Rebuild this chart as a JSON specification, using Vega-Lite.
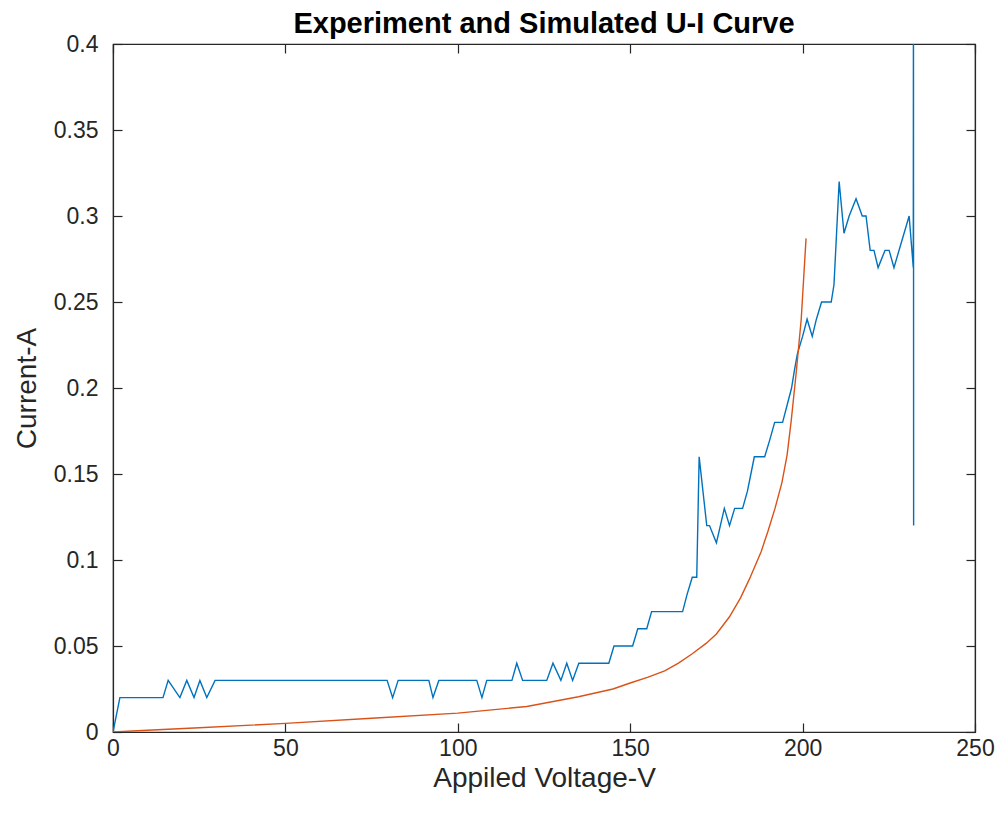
{
  "$schema": "https://vega.github.io/schema/vega-lite/v6.json",
  "autosize": "none",
  "width": 862,
  "height": 688,
  "padding": {"left": 113, "top": 44, "right": 28, "bottom": 89},
  "background": "white",
  "title": {
    "text": "Experiment and Simulated U-I Curve",
    "font": "Liberation Sans",
    "fontSize": 29,
    "fontWeight": "bold",
    "color": "#000000",
    "anchor": "middle",
    "offset": -6
  },
  "config": {
    "view": {"stroke": "#262626", "strokeWidth": 1.2},
    "axis": {
      "grid": false,
      "domainColor": "#262626",
      "domainWidth": 1.2,
      "tickColor": "#262626",
      "tickWidth": 1.2,
      "tickSize": -9,
      "labelColor": "#262626",
      "labelFont": "Liberation Sans",
      "labelFontSize": 23,
      "titleColor": "#262626",
      "titleFont": "Liberation Sans",
      "titleFontSize": 28,
      "titleFontWeight": "normal"
    }
  },
  "data": {
    "values": [
      {"series": "Experiment", "V": 0, "I": 0},
      {"series": "Experiment", "V": 2, "I": 0.02},
      {"series": "Experiment", "V": 14.5, "I": 0.02},
      {"series": "Experiment", "V": 16, "I": 0.03},
      {"series": "Experiment", "V": 19.4, "I": 0.02},
      {"series": "Experiment", "V": 21.4, "I": 0.03},
      {"series": "Experiment", "V": 23.5, "I": 0.02},
      {"series": "Experiment", "V": 25.2, "I": 0.03},
      {"series": "Experiment", "V": 27.2, "I": 0.02},
      {"series": "Experiment", "V": 29.6, "I": 0.03},
      {"series": "Experiment", "V": 79.5, "I": 0.03},
      {"series": "Experiment", "V": 81.1, "I": 0.02},
      {"series": "Experiment", "V": 82.7, "I": 0.03},
      {"series": "Experiment", "V": 91.6, "I": 0.03},
      {"series": "Experiment", "V": 92.8, "I": 0.02},
      {"series": "Experiment", "V": 94.5, "I": 0.03},
      {"series": "Experiment", "V": 105.5, "I": 0.03},
      {"series": "Experiment", "V": 107, "I": 0.02},
      {"series": "Experiment", "V": 108.4, "I": 0.03},
      {"series": "Experiment", "V": 115.7, "I": 0.03},
      {"series": "Experiment", "V": 117.1, "I": 0.04},
      {"series": "Experiment", "V": 118.8, "I": 0.03},
      {"series": "Experiment", "V": 125.8, "I": 0.03},
      {"series": "Experiment", "V": 127.6, "I": 0.04},
      {"series": "Experiment", "V": 129.9, "I": 0.03},
      {"series": "Experiment", "V": 131.6, "I": 0.04},
      {"series": "Experiment", "V": 133.3, "I": 0.03},
      {"series": "Experiment", "V": 135.1, "I": 0.04},
      {"series": "Experiment", "V": 143.8, "I": 0.04},
      {"series": "Experiment", "V": 145.3, "I": 0.05},
      {"series": "Experiment", "V": 150.7, "I": 0.05},
      {"series": "Experiment", "V": 152.2, "I": 0.06},
      {"series": "Experiment", "V": 154.8, "I": 0.06},
      {"series": "Experiment", "V": 156.2, "I": 0.07},
      {"series": "Experiment", "V": 165.2, "I": 0.07},
      {"series": "Experiment", "V": 166.5, "I": 0.08},
      {"series": "Experiment", "V": 168, "I": 0.09},
      {"series": "Experiment", "V": 169.3, "I": 0.09},
      {"series": "Experiment", "V": 170, "I": 0.16},
      {"series": "Experiment", "V": 172.2, "I": 0.12},
      {"series": "Experiment", "V": 173, "I": 0.12},
      {"series": "Experiment", "V": 175, "I": 0.11},
      {"series": "Experiment", "V": 177.3, "I": 0.13},
      {"series": "Experiment", "V": 178.8, "I": 0.12},
      {"series": "Experiment", "V": 180.3, "I": 0.13},
      {"series": "Experiment", "V": 182.6, "I": 0.13},
      {"series": "Experiment", "V": 184, "I": 0.14},
      {"series": "Experiment", "V": 185, "I": 0.15},
      {"series": "Experiment", "V": 186, "I": 0.16},
      {"series": "Experiment", "V": 189, "I": 0.16},
      {"series": "Experiment", "V": 190.5, "I": 0.17},
      {"series": "Experiment", "V": 191.9, "I": 0.18},
      {"series": "Experiment", "V": 194.2, "I": 0.18},
      {"series": "Experiment", "V": 195.5, "I": 0.19},
      {"series": "Experiment", "V": 196.8, "I": 0.2},
      {"series": "Experiment", "V": 197.6, "I": 0.21},
      {"series": "Experiment", "V": 198.5, "I": 0.22},
      {"series": "Experiment", "V": 200, "I": 0.23},
      {"series": "Experiment", "V": 201.3, "I": 0.24},
      {"series": "Experiment", "V": 202.8, "I": 0.23},
      {"series": "Experiment", "V": 204, "I": 0.24},
      {"series": "Experiment", "V": 205.5, "I": 0.25},
      {"series": "Experiment", "V": 208.3, "I": 0.25},
      {"series": "Experiment", "V": 209.1, "I": 0.26},
      {"series": "Experiment", "V": 210.6, "I": 0.32},
      {"series": "Experiment", "V": 212, "I": 0.29},
      {"series": "Experiment", "V": 213.5, "I": 0.3},
      {"series": "Experiment", "V": 215.5, "I": 0.31},
      {"series": "Experiment", "V": 217.3, "I": 0.3},
      {"series": "Experiment", "V": 218.4, "I": 0.3},
      {"series": "Experiment", "V": 219.6, "I": 0.28},
      {"series": "Experiment", "V": 220.7, "I": 0.28},
      {"series": "Experiment", "V": 221.9, "I": 0.27},
      {"series": "Experiment", "V": 223.9, "I": 0.28},
      {"series": "Experiment", "V": 225.1, "I": 0.28},
      {"series": "Experiment", "V": 226.5, "I": 0.27},
      {"series": "Experiment", "V": 230.9, "I": 0.3},
      {"series": "Experiment", "V": 232.1, "I": 0.27},
      {"series": "Experiment", "V": 232.15, "I": 0.45},
      {"series": "Experiment", "V": 232.2, "I": 0.12},
      {"series": "Simulated", "V": 0, "I": 0},
      {"series": "Simulated", "V": 10, "I": 0.001},
      {"series": "Simulated", "V": 25, "I": 0.0025},
      {"series": "Simulated", "V": 50, "I": 0.005},
      {"series": "Simulated", "V": 75, "I": 0.008},
      {"series": "Simulated", "V": 100, "I": 0.011},
      {"series": "Simulated", "V": 120, "I": 0.0148},
      {"series": "Simulated", "V": 135, "I": 0.0205},
      {"series": "Simulated", "V": 145, "I": 0.025},
      {"series": "Simulated", "V": 150, "I": 0.0285},
      {"series": "Simulated", "V": 155, "I": 0.0318},
      {"series": "Simulated", "V": 160, "I": 0.0355},
      {"series": "Simulated", "V": 164, "I": 0.04},
      {"series": "Simulated", "V": 168, "I": 0.0455},
      {"series": "Simulated", "V": 172, "I": 0.0515},
      {"series": "Simulated", "V": 175, "I": 0.057},
      {"series": "Simulated", "V": 178.8, "I": 0.067},
      {"series": "Simulated", "V": 182, "I": 0.078},
      {"series": "Simulated", "V": 184.6, "I": 0.089},
      {"series": "Simulated", "V": 188, "I": 0.105},
      {"series": "Simulated", "V": 190, "I": 0.117},
      {"series": "Simulated", "V": 192, "I": 0.13},
      {"series": "Simulated", "V": 194, "I": 0.145},
      {"series": "Simulated", "V": 195.5, "I": 0.161},
      {"series": "Simulated", "V": 196.7, "I": 0.181},
      {"series": "Simulated", "V": 198.2, "I": 0.21},
      {"series": "Simulated", "V": 199.6, "I": 0.24},
      {"series": "Simulated", "V": 201, "I": 0.287}
    ]
  },
  "resolve": {"axis": {"x": "independent", "y": "independent"}},
  "layer": [
    {
      "mark": {"type": "line", "strokeWidth": 1.4, "clip": true},
      "encoding": {
        "x": {
          "field": "V", "type": "quantitative",
          "scale": {"domain": [0, 250], "nice": false},
          "axis": {"values": [0, 50, 100, 150, 200, 250], "title": "Appiled Voltage-V", "labelPadding": 14, "titlePadding": 4, "labelFlush": false}
        },
        "y": {
          "field": "I", "type": "quantitative",
          "scale": {"domain": [0, 0.4], "nice": false},
          "axis": {"values": [0, 0.05, 0.1, 0.15, 0.2, 0.25, 0.3, 0.35, 0.4], "format": ".2~f", "title": "Current-A", "labelPadding": 24, "titlePadding": 12, "labelFlush": false}
        },
        "color": {
          "field": "series", "type": "nominal",
          "scale": {"domain": ["Experiment", "Simulated"], "range": ["#0072BD", "#D95319"]},
          "legend": null
        }
      }
    },
    {
      "mark": {"type": "point", "opacity": 0, "clip": true},
      "encoding": {
        "x": {
          "field": "V", "type": "quantitative",
          "axis": {"orient": "top", "values": [0, 50, 100, 150, 200, 250], "labels": false, "title": null}
        },
        "y": {
          "field": "I", "type": "quantitative",
          "axis": {"orient": "right", "values": [0, 0.05, 0.1, 0.15, 0.2, 0.25, 0.3, 0.35, 0.4], "labels": false, "title": null}
        }
      }
    }
  ]
}
